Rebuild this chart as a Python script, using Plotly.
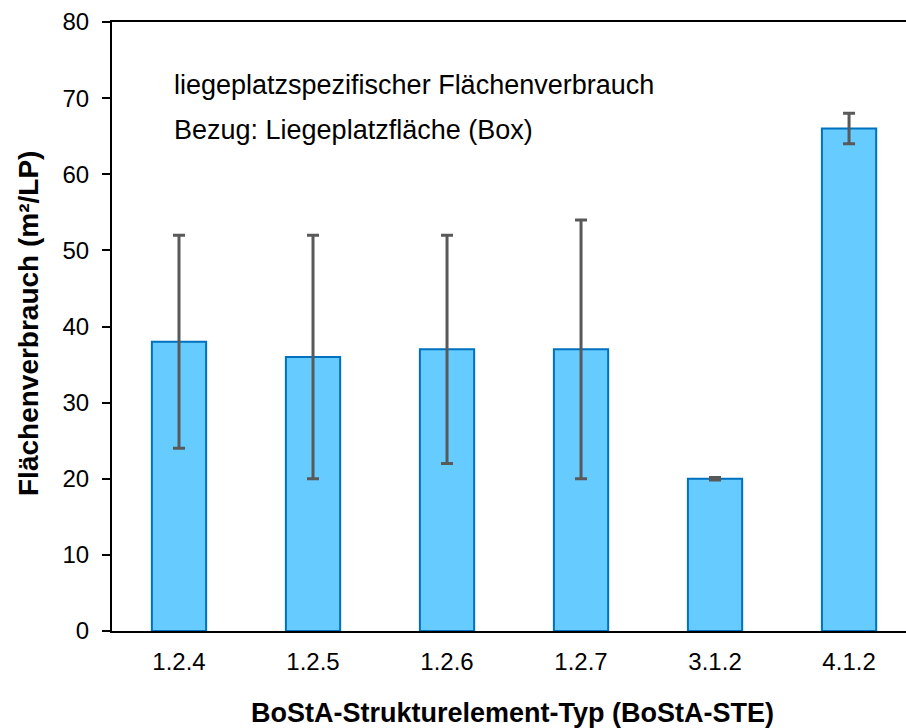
import plotly.graph_objects as go

categories = ["1.2.4", "1.2.5", "1.2.6", "1.2.7", "3.1.2", "4.1.2"]
values = [38, 36, 37, 37, 20, 66]
err_plus = [14, 16, 15, 17, 0.15, 2]
err_minus = [14, 16, 15, 17, 0.15, 2]
y_ticks = [0, 10, 20, 30, 40, 50, 60, 70, 80]

W, H = 906, 728
L, R, T, B = 112, 0, 22, 97

fig = go.Figure()
fig.add_trace(go.Bar(
    x=list(range(len(categories))),
    y=values,
    width=0.405,
    marker=dict(color="#66CCFF", line=dict(color="#0070C0", width=2)),
    error_y=dict(type="data", symmetric=False, array=err_plus, arrayminus=err_minus,
                 color="#595959", thickness=3, width=6),
))

fam = "Liberation Sans, Arial, sans-serif"
font = dict(family=fam, size=24, color="black")

pw = W - L - R
ph = H - T - B

def px_x(x):
    return (x - L) / pw

def px_y(y):
    return (H - B - y) / ph

fig.update_layout(
    width=W, height=H,
    margin=dict(l=L, r=R, t=T, b=B),
    paper_bgcolor="white", plot_bgcolor="white",
    font=font,
    showlegend=False,
    xaxis=dict(
        range=[-0.5, 5.425],
        tickmode="array", tickvals=list(range(len(categories))), ticktext=categories,
        tickfont=dict(size=24),
        ticklabelstandoff=8,
        showline=True, linecolor="black", linewidth=2, mirror=True,
        ticks="", showgrid=False, zeroline=False,
    ),
    yaxis=dict(
        range=[0, 80],
        tickmode="array", tickvals=y_ticks,
        tickfont=dict(size=24),
        ticklabelstandoff=8,
        showline=True, linecolor="black", linewidth=2,
        ticks="outside", ticklen=8, tickwidth=2, tickcolor="black",
        showgrid=False, zeroline=False,
    ),
    annotations=[
        dict(text="liegeplatzspezifischer Flächenverbrauch", x=px_x(172), y=px_y(85),
             xref="paper", yref="paper", font=dict(size=27),
             showarrow=False, xanchor="left", yanchor="middle"),
        dict(text="Bezug: Liegeplatzfläche (Box)", x=px_x(172), y=px_y(130),
             xref="paper", yref="paper", font=dict(size=27),
             showarrow=False, xanchor="left", yanchor="middle"),
        dict(text="<b>BoStA-Strukturelement-Typ (BoStA-STE)</b>", x=px_x(512), y=px_y(713),
             xref="paper", yref="paper", font=dict(size=27),
             showarrow=False, xanchor="center", yanchor="middle"),
        dict(text="<b>Flächenverbrauch (m²/LP)</b>", x=px_x(29), y=px_y(324),
             xref="paper", yref="paper", font=dict(size=28), textangle=-90,
             showarrow=False, xanchor="center", yanchor="middle"),
    ],
)

fig.write_html("out.html", config={"displayModeBar": False},
               post_script="document.body.style.margin='0';")
